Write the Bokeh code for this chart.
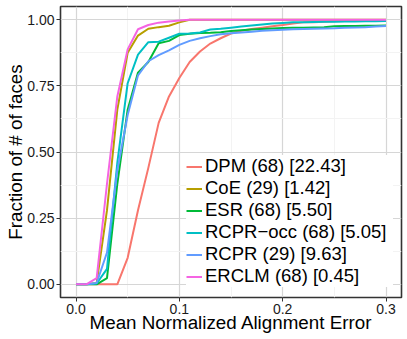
from bokeh.plotting import figure
from bokeh.models import Range1d, FixedTicker, PrintfTickFormatter, Legend, LegendItem, ColumnDataSource
from bokeh.embed import file_html
from bokeh.resources import INLINE

error = [0.00, 0.01, 0.02, 0.03, 0.04, 0.05, 0.06, 0.07, 0.08, 0.09, 0.10,
         0.11, 0.12, 0.13, 0.14, 0.15, 0.16, 0.17, 0.18, 0.19, 0.20,
         0.21, 0.22, 0.23, 0.24, 0.25, 0.26, 0.27, 0.28, 0.29, 0.30]

dpm = [0, 0, 0, 0, 0, 0.10, 0.28, 0.44, 0.61, 0.71, 0.78,
       0.84, 0.88, 0.91, 0.93, 0.948, 0.958, 0.965, 0.97, 0.975, 0.98,
       0.986, 0.99, 0.99, 0.992, 0.994, 0.995, 0.996, 0.997, 0.997, 0.998]
coe = [0, 0, 0.005, 0.28, 0.66, 0.875, 0.94, 0.966, 0.972, 0.977, 0.99,
       1.0, 1.0, 1.0, 1.0, 1.0, 1.0, 1.0, 1.0, 1.0, 1.0,
       1.0, 1.0, 1.0, 1.0, 1.0, 1.0, 1.0, 1.0, 1.0, 1.0]
esr = [0, 0, 0, 0.023, 0.38, 0.66, 0.80, 0.84, 0.911, 0.92, 0.942,
       0.947, 0.95, 0.951, 0.953, 0.957, 0.96, 0.963, 0.965, 0.967, 0.969,
       0.97, 0.97, 0.971, 0.972, 0.975, 0.976, 0.976, 0.977, 0.977, 0.978]
rcpr_occ = [0, 0, 0.003, 0.058, 0.46, 0.76, 0.868, 0.915, 0.917, 0.932, 0.947,
            0.948, 0.952, 0.963, 0.966, 0.97, 0.974, 0.978, 0.982, 0.986, 0.988,
            0.99, 0.99, 0.991, 0.992, 0.992, 0.993, 0.993, 0.994, 0.994, 0.995]
rcpr = [0, 0, 0.005, 0.12, 0.43, 0.64, 0.79, 0.843, 0.866, 0.884, 0.905,
        0.92, 0.93, 0.938, 0.945, 0.949, 0.952, 0.955, 0.958, 0.96, 0.962,
        0.964, 0.965, 0.966, 0.967, 0.968, 0.97, 0.971, 0.972, 0.974, 0.976]
erclm = [0, 0, 0.023, 0.38, 0.71, 0.888, 0.964, 0.98, 0.989, 0.993, 0.997,
         1.0, 1.0, 1.0, 1.0, 1.0, 1.0, 1.0, 1.0, 1.0, 1.0,
         1.0, 1.0, 1.0, 1.0, 1.0, 1.0, 1.0, 1.0, 1.0, 1.0]

series_names = ["DPM (68) [22.43]", "CoE (29) [1.42]", "ESR (68) [5.50]",
                "RCPR\u2212occ (68) [5.05]", "RCPR (29) [9.63]", "ERCLM (68) [0.45]"]
series_values = [dpm, coe, esr, rcpr_occ, rcpr, erclm]
colors = ["#F8766D", "#B79F00", "#00BA38", "#00BFC4", "#619CFF", "#F564E3"]

x_ticks = [0.0, 0.1, 0.2, 0.3]
x_minor = [0.05, 0.15, 0.25]
y_ticks = [0.0, 0.25, 0.5, 0.75, 1.0]
y_minor = [0.125, 0.375, 0.625, 0.875]

FONT = "Liberation Sans"

p = figure(width=407, height=339,
           x_range=Range1d(-0.015, 0.315), y_range=Range1d(-0.05, 1.05),
           output_backend="svg", toolbar_location=None,
           min_border_left=60, min_border_right=6, min_border_top=6, min_border_bottom=42)

p.background_fill_color = "white"
p.border_fill_color = "white"
p.outline_line_color = "#333333"
p.outline_line_width = 1.6

p.xaxis.ticker = FixedTicker(ticks=x_ticks, minor_ticks=x_minor)
p.yaxis.ticker = FixedTicker(ticks=y_ticks, minor_ticks=y_minor)
p.xaxis.formatter = PrintfTickFormatter(format="%.1f")
p.yaxis.formatter = PrintfTickFormatter(format="%.2f")

for ax in (p.xaxis, p.yaxis):
    ax.axis_line_color = None
    ax.major_tick_line_color = "#333333"
    ax.major_tick_out = 4
    ax.major_tick_in = 0
    ax.minor_tick_line_color = None
    ax.major_label_text_font = FONT
    ax.major_label_text_font_size = "14px"
    ax.major_label_text_color = "#1a1a1a"
    ax.major_label_standoff = 2
    ax.axis_label_text_font = FONT
    ax.axis_label_text_font_size = "18.8px"
    ax.axis_label_text_font_style = "normal"
    ax.axis_label_text_color = "black"

p.xaxis.axis_label_standoff = -5
p.yaxis.axis_label_standoff = -2
p.xaxis.axis_label = "Mean Normalized Alignment Error"
p.yaxis.axis_label = "Fraction of # of faces"

for g in (p.xgrid, p.ygrid):
    g.grid_line_color = "#d6d6d6"
    g.grid_line_width = 1.2
    g.minor_grid_line_color = "#f3f3f3"
    g.minor_grid_line_width = 1

items = []
for name, vals, col in zip(series_names, series_values, colors):
    src = ColumnDataSource(data=dict(x=error, y=vals))
    r = p.line("x", "y", source=src, line_color=col, line_width=2)
    items.append(LegendItem(label=name, renderers=[r]))

legend = Legend(items=items, location=(126, 10),
                label_text_font=FONT, label_text_font_size="18.5px",
                label_text_color="black",
                glyph_width=16, glyph_height=21, label_height=21,
                label_width=188, label_standoff=3,
                spacing=0, padding=0, margin=0,
                border_line_color=None,
                background_fill_color="white", background_fill_alpha=1.0)
p.add_layout(legend, "center")

open("out.html", "w").write(file_html(p, INLINE))
